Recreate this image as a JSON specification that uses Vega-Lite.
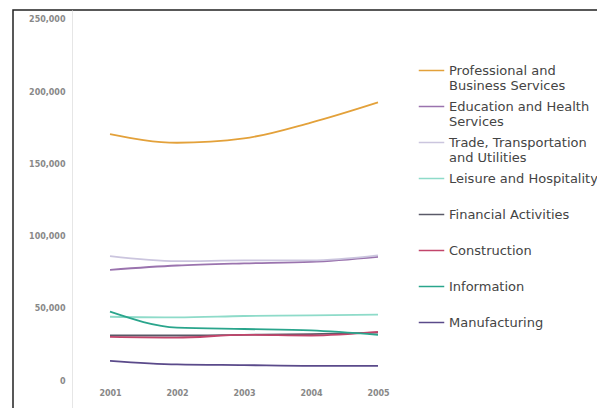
{
  "$schema": "https://vega.github.io/schema/vega-lite/v6.json",
  "autosize": {"type": "none"},
  "width": 590,
  "height": 410,
  "padding": {"left": 13, "top": 10, "right": 0, "bottom": 0},
  "background": "white",
  "config": {
    "view": {"stroke": "#222", "strokeWidth": 1.5},
    "font": "DejaVu Sans"
  },
  "data": {
    "values": [
      {"year": 2001, "sector": "Professional and Business Services", "jobs": 171000},
      {"year": 2002, "sector": "Professional and Business Services", "jobs": 165000},
      {"year": 2003, "sector": "Professional and Business Services", "jobs": 168000},
      {"year": 2004, "sector": "Professional and Business Services", "jobs": 179000},
      {"year": 2005, "sector": "Professional and Business Services", "jobs": 193000},
      {"year": 2001, "sector": "Education and Health Services", "jobs": 77000},
      {"year": 2002, "sector": "Education and Health Services", "jobs": 80000},
      {"year": 2003, "sector": "Education and Health Services", "jobs": 81500},
      {"year": 2004, "sector": "Education and Health Services", "jobs": 82500},
      {"year": 2005, "sector": "Education and Health Services", "jobs": 86000},
      {"year": 2001, "sector": "Trade, Transportation and Utilities", "jobs": 86500},
      {"year": 2002, "sector": "Trade, Transportation and Utilities", "jobs": 83000},
      {"year": 2003, "sector": "Trade, Transportation and Utilities", "jobs": 83500},
      {"year": 2004, "sector": "Trade, Transportation and Utilities", "jobs": 83500},
      {"year": 2005, "sector": "Trade, Transportation and Utilities", "jobs": 87000},
      {"year": 2001, "sector": "Leisure and Hospitality", "jobs": 44500},
      {"year": 2002, "sector": "Leisure and Hospitality", "jobs": 44000},
      {"year": 2003, "sector": "Leisure and Hospitality", "jobs": 45000},
      {"year": 2004, "sector": "Leisure and Hospitality", "jobs": 45500},
      {"year": 2005, "sector": "Leisure and Hospitality", "jobs": 46000},
      {"year": 2001, "sector": "Financial Activities", "jobs": 31500},
      {"year": 2002, "sector": "Financial Activities", "jobs": 31500},
      {"year": 2003, "sector": "Financial Activities", "jobs": 32000},
      {"year": 2004, "sector": "Financial Activities", "jobs": 32500},
      {"year": 2005, "sector": "Financial Activities", "jobs": 33500},
      {"year": 2001, "sector": "Construction", "jobs": 30500},
      {"year": 2002, "sector": "Construction", "jobs": 30000},
      {"year": 2003, "sector": "Construction", "jobs": 32000},
      {"year": 2004, "sector": "Construction", "jobs": 31500},
      {"year": 2005, "sector": "Construction", "jobs": 34000},
      {"year": 2001, "sector": "Information", "jobs": 48000},
      {"year": 2002, "sector": "Information", "jobs": 37000},
      {"year": 2003, "sector": "Information", "jobs": 36000},
      {"year": 2004, "sector": "Information", "jobs": 35000},
      {"year": 2005, "sector": "Information", "jobs": 32000},
      {"year": 2001, "sector": "Manufacturing", "jobs": 14000},
      {"year": 2002, "sector": "Manufacturing", "jobs": 11500},
      {"year": 2003, "sector": "Manufacturing", "jobs": 11000},
      {"year": 2004, "sector": "Manufacturing", "jobs": 10500},
      {"year": 2005, "sector": "Manufacturing", "jobs": 10500}
    ]
  },
  "mark": {"type": "line", "interpolate": "monotone", "strokeWidth": 1.8},
  "encoding": {
    "x": {
      "field": "year", "type": "quantitative",
      "scale": {"domain": [1999.5522, 2008.3582], "nice": false, "zero": false},
      "axis": {
        "title": null, "values": [2001, 2002, 2003, 2004, 2005], "format": "d",
        "domain": false, "ticks": false, "grid": false, "offset": -39,
        "labelPadding": 8, "labelFontSize": 8, "labelColor": "#888", "labelFontWeight": "bold"
      }
    },
    "y": {
      "field": "jobs", "type": "quantitative",
      "scale": {"domain": [-27008, 256925], "nice": false, "zero": false},
      "axis": {
        "title": null, "values": [0, 50000, 100000, 150000, 200000, 250000], "format": ",d",
        "domainColor": "#e6e6e6", "ticks": false, "grid": false, "offset": -59,
        "labelPadding": 7, "labelFontSize": 8, "labelColor": "#888", "labelFontWeight": "bold"
      }
    },
    "color": {
      "field": "sector", "type": "nominal",
      "scale": {
        "domain": ["Professional and Business Services", "Education and Health Services", "Trade, Transportation and Utilities", "Leisure and Hospitality", "Financial Activities", "Construction", "Information", "Manufacturing"],
        "range": ["#e3a13a", "#9a73ae", "#cbc5de", "#8edbc9", "#5a5a68", "#c2456b", "#2aa58c", "#5a4a8a"]
      },
      "legend": {
        "title": null, "orient": "none", "legendX": 405, "legendY": 47,
        "symbolType": "stroke", "symbolSize": 650, "symbolStrokeWidth": 1.5,
        "labelFontSize": 13, "labelColor": "#444", "labelLimit": 400, "labelOffset": 4,
        "rowPadding": -2,
        "labelExpr": "datum.label == 'Professional and Business Services' ? ['Professional and', 'Business Services'] : datum.label == 'Education and Health Services' ? ['Education and Health', 'Services'] : datum.label == 'Trade, Transportation and Utilities' ? ['Trade, Transportation', 'and Utilities'] : [datum.label, ' ']"
      }
    }
  }
}
